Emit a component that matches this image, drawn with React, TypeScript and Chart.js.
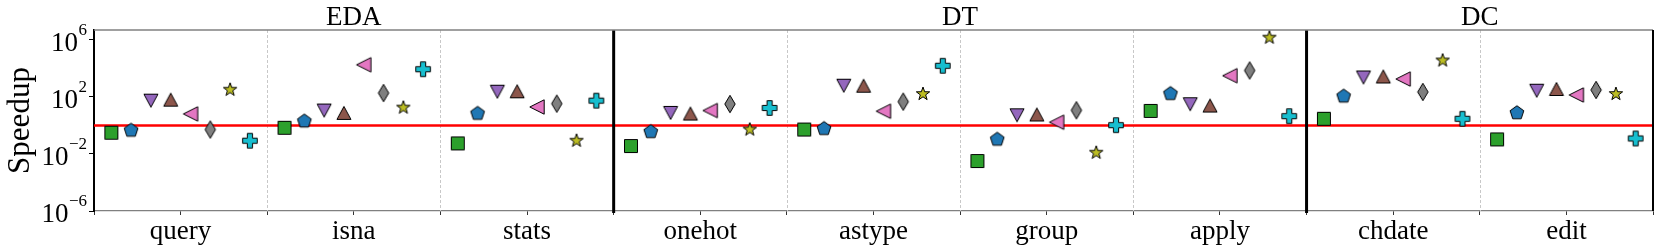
import React, { useEffect, useRef } from 'react';
import { Chart, registerables } from 'chart.js';
Chart.register(...registerables);

const categories = ['query', 'isna', 'stats', 'onehot', 'astype', 'group', 'apply', 'chdate', 'edit'];
const groupNames = ['EDA', 'DT', 'DC'];
const groupFirst = [0, 3, 7];
const groupLast = [2, 6, 8];
const thickSeparators = [2.5, 6.5];
const dashedSeparators = [0.5, 1.5, 3.5, 4.5, 5.5, 7.5];
const yTickValues = [1e-6, 1e-2, 1e2, 1e6];
const yTickBases = ['10', '10', '10', '10'];
const yTickExponents = ['−6', '−2', '2', '6'];
const baselineValue = 1;

// speedup per category, one array per marker series
const squareValues = [0.31, 0.69, 0.055, 0.036, 0.52, 0.0032, 10.5, 2.95, 0.105];
const pentagonValues = [0.45, 2.0, 6.9, 0.36, 0.59, 0.105, 170, 112, 7.6];
const triDownValues = [55, 11.2, 234, 7.6, 617, 5.2, 31, 2340, 275];
const triUpValues = [65, 7.6, 251, 6.9, 617, 5.9, 25, 2750, 363];
const triLeftValues = [6.5, 18200, 20, 11.2, 10, 1.7, 3090, 1820, 138];
const diamondValues = [0.52, 190, 34, 32, 47, 11.7, 7240, 224, 309];
const starValues = [324, 18, 0.085, 0.52, 162, 0.0123, 1450000, 36300, 162];
const plusValues = [0.085, 8900, 55, 17, 15500, 1.05, 4.5, 2.95, 0.123];

const seriesValues = [squareValues, pentagonValues, triDownValues, triUpValues, triLeftValues, diamondValues, starValues, plusValues];
const seriesShapes = ['square', 'pentagon', 'triDown', 'triUp', 'triLeft', 'diamond', 'star', 'plus'];
const seriesColors = ['#2ca02c', '#1f77b4', '#9467bd', '#8c564b', '#e377c2', '#7f7f7f', '#bcbd22', '#17becf'];

const FONT = "'Liberation Serif', 'Times New Roman', serif";

function makeMarker(shape: string, fill: string): HTMLCanvasElement {
  const c = document.createElement('canvas');
  c.width = 24;
  c.height = 24;
  const ctx = c.getContext('2d')!;
  ctx.translate(12, 12);
  ctx.beginPath();
  const poly = (pts: number[][]) => {
    pts.forEach((p, i) => (i === 0 ? ctx.moveTo(p[0], p[1]) : ctx.lineTo(p[0], p[1])));
    ctx.closePath();
  };
  if (shape === 'square') {
    ctx.rect(-6.5, -6.5, 13, 13);
  } else if (shape === 'pentagon') {
    const pts: number[][] = [];
    for (let k = 0; k < 5; k++) {
      const a = -Math.PI / 2 + (k * 2 * Math.PI) / 5;
      pts.push([7.2 * Math.cos(a), 7.2 * Math.sin(a)]);
    }
    poly(pts);
  } else if (shape === 'triDown') {
    poly([[-7, -6.5], [7, -6.5], [0, 6.5]]);
  } else if (shape === 'triUp') {
    poly([[0, -6.5], [7, 6.5], [-7, 6.5]]);
  } else if (shape === 'triLeft') {
    poly([[-7.2, 0], [7.2, -7.2], [7.2, 7.2]]);
  } else if (shape === 'diamond') {
    poly([[0, -8.7], [5.2, 0], [0, 8.7], [-5.2, 0]]);
  } else if (shape === 'star') {
    const pts: number[][] = [];
    for (let k = 0; k < 10; k++) {
      const a = -Math.PI / 2 + (k * Math.PI) / 5;
      const r = k % 2 === 0 ? 7 : 2.8;
      pts.push([r * Math.cos(a), r * Math.sin(a)]);
    }
    poly(pts);
  } else if (shape === 'plus') {
    const a = 7.3;
    const t = 2.6;
    poly([[-t, -a], [t, -a], [t, -t], [a, -t], [a, t], [t, t], [t, a], [-t, a], [-t, t], [-a, t], [-a, -t], [-t, -t]]);
  }
  ctx.fillStyle = fill;
  ctx.fill();
  ctx.lineWidth = 1;
  ctx.strokeStyle = '#000';
  ctx.lineJoin = 'miter';
  ctx.stroke();
  return c;
}

const decorPlugin = {
  id: 'decor',
  beforeDatasetsDraw(chart: any) {
    const { ctx, chartArea, scales } = chart;
    const xs = scales.x;
    const ys = scales.y;
    ctx.save();
    ctx.strokeStyle = '#c8c8c8';
    ctx.lineWidth = 1;
    ctx.setLineDash([3, 2]);
    dashedSeparators.forEach((v) => {
      const px = Math.round(xs.getPixelForValue(v)) + 0.5;
      ctx.beginPath();
      ctx.moveTo(px, chartArea.top);
      ctx.lineTo(px, chartArea.bottom);
      ctx.stroke();
    });
    ctx.setLineDash([]);
    const py = ys.getPixelForValue(baselineValue);
    ctx.strokeStyle = '#ff0000';
    ctx.lineWidth = 2.7;
    ctx.beginPath();
    ctx.moveTo(chartArea.left, py);
    ctx.lineTo(chartArea.right, py);
    ctx.stroke();
    ctx.strokeStyle = '#000';
    ctx.lineWidth = 3;
    thickSeparators.forEach((v) => {
      const px = xs.getPixelForValue(v);
      ctx.beginPath();
      ctx.moveTo(px, chartArea.top);
      ctx.lineTo(px, chartArea.bottom + 2);
      ctx.stroke();
    });
    ctx.strokeStyle = '#808080';
    ctx.lineWidth = 1.3;
    ctx.beginPath();
    ctx.moveTo(chartArea.left, chartArea.top);
    ctx.lineTo(chartArea.right, chartArea.top);
    ctx.stroke();
    ctx.strokeStyle = '#000';
    ctx.lineWidth = 2;
    ctx.beginPath();
    ctx.moveTo(chartArea.right, chartArea.top);
    ctx.lineTo(chartArea.right, chartArea.bottom);
    ctx.stroke();
    ctx.restore();
  },
  afterDraw(chart: any) {
    const { ctx, scales } = chart;
    const xs = scales.x;
    const ys = scales.y;
    ctx.save();
    ctx.fillStyle = '#000';
    ctx.textBaseline = 'alphabetic';
    // group titles
    ctx.font = `27px ${FONT}`;
    ctx.textAlign = 'center';
    groupNames.forEach((name, i) => {
      const cx = (xs.getPixelForValue(groupFirst[i] - 0.5) + xs.getPixelForValue(groupLast[i] + 0.5)) / 2;
      ctx.fillText(name, cx, 25);
    });
    // y tick labels as 10 with a raised exponent
    const right = ys.right - 7;
    yTickValues.forEach((v, i) => {
      const py = ys.getPixelForValue(v);
      ctx.font = `17px ${FONT}`;
      ctx.textAlign = 'right';
      const expW = ctx.measureText(yTickExponents[i]).width;
      ctx.fillText(yTickExponents[i], right, py - 5);
      ctx.font = `27px ${FONT}`;
      ctx.fillText(yTickBases[i], right - expW - 0.5, py + 11);
    });
    ctx.restore();
  },
};

export default function App() {
  const ref = useRef<HTMLCanvasElement>(null);
  useEffect(() => {
    const offsets = seriesValues.map((_, j) => -0.4 + (j * 0.8) / (seriesValues.length - 1));
    const datasets = seriesValues.map((vals, j) => ({
      label: seriesShapes[j],
      data: vals.map((v, i) => ({ x: i + offsets[j], y: v })),
      pointStyle: makeMarker(seriesShapes[j], seriesColors[j]),
      backgroundColor: seriesColors[j],
      borderColor: '#000',
      pointRadius: 7,
      showLine: false,
    }));
    const chart = new Chart(ref.current!, {
      type: 'scatter',
      data: { datasets },
      plugins: [decorPlugin],
      options: {
        animation: false,
        responsive: false,
        events: [],
        layout: { padding: { top: 30, right: 8, left: 0, bottom: 0 } },
        plugins: { legend: { display: false }, tooltip: { enabled: false } },
        scales: {
          x: {
            type: 'linear',
            min: -0.5,
            max: 8.5,
            afterFit: (s: any) => {
              s.height = 38;
            },
            ticks: {
              stepSize: 0.5,
              autoSkip: false,
              maxRotation: 0,
              padding: 1,
              color: '#000',
              font: { family: FONT, size: 27 },
              callback: (v: any) => (Number.isInteger(v) ? categories[v] : ''),
            },
            grid: { drawOnChartArea: false, drawTicks: true, tickLength: 4, tickColor: '#333', tickWidth: 1 },
            border: { display: true, color: '#808080', width: 1.3 },
          },
          y: {
            type: 'logarithmic',
            min: 1e-6,
            max: 5e6,
            afterFit: (s: any) => {
              s.width = 94;
            },
            afterBuildTicks: (s: any) => {
              s.ticks = yTickValues.map((v) => ({ value: v }));
            },
            ticks: { display: false },
            title: {
              display: true,
              text: 'Speedup',
              color: '#000',
              font: { family: FONT, size: 31 },
              padding: { top: 2, bottom: 0 },
            },
            grid: { drawOnChartArea: false, drawTicks: true, tickLength: 5, tickColor: '#000', tickWidth: 1 },
            border: { display: true, color: '#000', width: 2 },
          },
        },
      },
    } as any);
    return () => chart.destroy();
  }, []);
  return (
    <div style={{ position: 'fixed', left: 0, top: 0, width: 1661, height: 249, background: '#fff' }}>
      <canvas ref={ref} width={1661} height={249} style={{ width: 1661, height: 249, display: 'block' }} />
    </div>
  );
}
